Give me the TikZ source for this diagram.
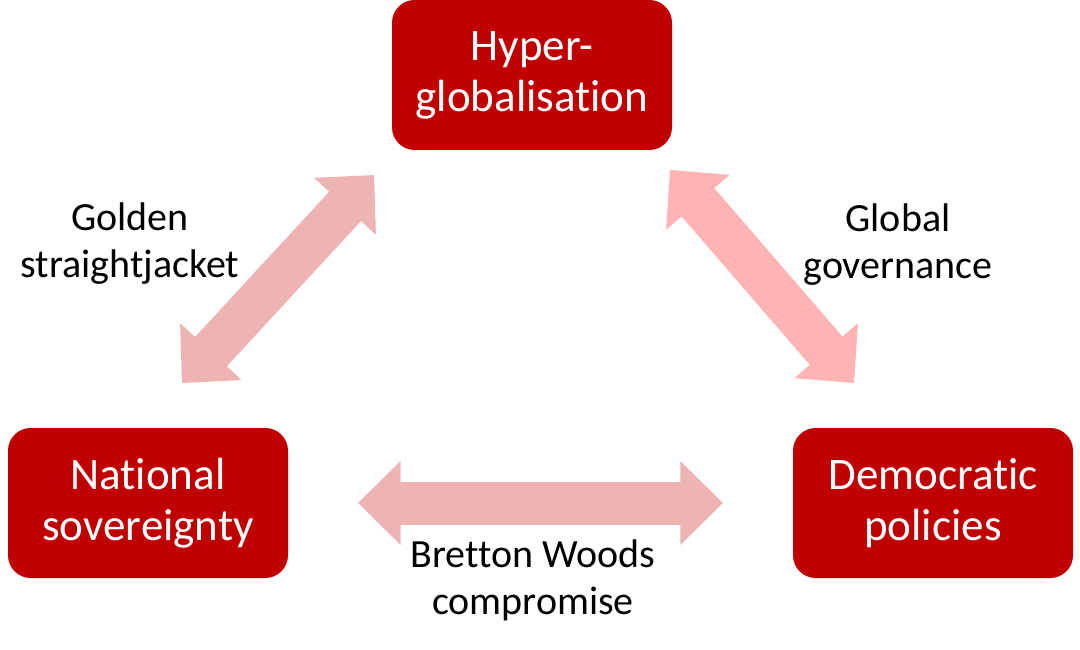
\documentclass[tikz,border=0pt]{standalone}
\usepackage{fontspec}
\setmainfont{Carlito}[Ligatures={NoCommon}]
\usetikzlibrary{arrows.meta}
\definecolor{boxred}{HTML}{C00000}
\definecolor{arrowrose}{HTML}{EEB4B4}
\definecolor{arrowpink}{HTML}{FFB4B4}
\begin{document}
\begin{tikzpicture}[x=0.75pt,y=-0.75pt,
  box/.style={fill=boxred, rounded corners=17pt, minimum width=210pt, minimum height=112.5pt,
    inner sep=0pt, text=white, align=center, font=\fontsize{33.8}{38.25}\selectfont},
  lbl/.style={align=center, inner sep=0pt, font=\fontsize{30}{35.25}\selectfont},
  fatarrow/.style={line width=32.25pt, {Triangle[length=32pt,width=63pt,line width=0pt]}-{Triangle[length=32pt,width=63pt,line width=0pt]}},
  fatshaft/.style={line width=32.25pt, shorten >=28pt, shorten <=28pt}]
\useasboundingbox (0,0) rectangle (1080,649);
% boxes
\node[box] (hyper) at (532,75) {Hyper-\\globalisation};
\node[box] (nat) at (148,503) {National\\sovereignty};
\node[box] (dem) at (933,503) {Democratic\\policies};
% arrow end points
\coordinate (gsA) at (182,383);
\coordinate (gsB) at (374,175);
\coordinate (ggA) at (670,170);
\coordinate (ggB) at (854,383);
\coordinate (bwA) at (358,503);
\coordinate (bwB) at (723,503);
% arrows
\draw[fatshaft, draw=arrowrose] (gsA) -- (gsB);
\draw[fatarrow, draw=arrowrose] (gsA) -- (gsB);
\draw[fatshaft, draw=arrowpink] (ggA) -- (ggB);
\draw[fatarrow, draw=arrowpink] (ggA) -- (ggB);
\draw[fatshaft, draw=arrowrose] (bwA) -- (bwB);
\draw[fatarrow, draw=arrowrose] (bwA) -- (bwB);
% labels
\node[lbl] (golden) at (130,244) {Golden\\straightjacket};
\node[lbl] (global) at (898,245) {Global\\governance};
\node[lbl] (bretton) at (533,580) {Bretton Woods\\compromise};
\end{tikzpicture}
\end{document}
